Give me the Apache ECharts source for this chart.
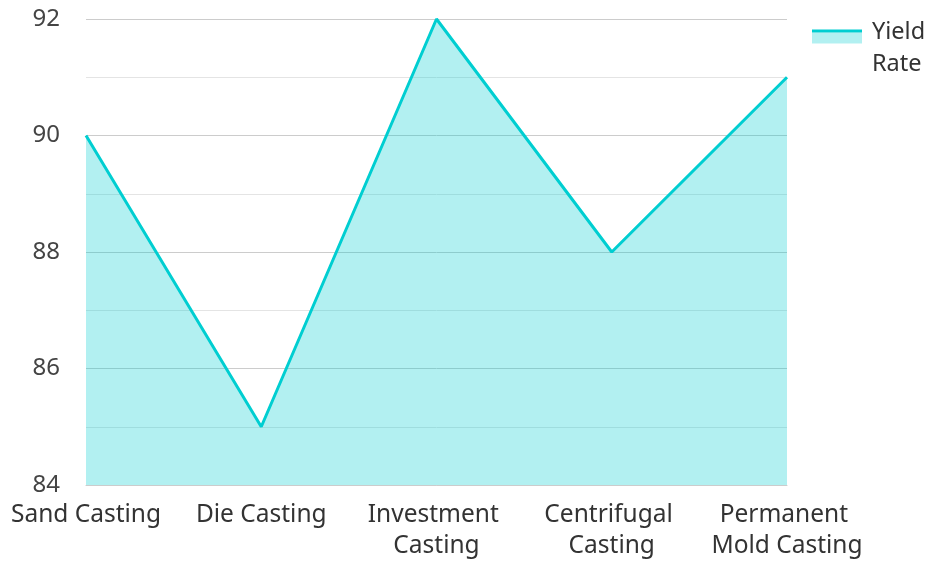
<!DOCTYPE html>
<html><head><meta charset="utf-8">
<script src="https://cdn.jsdelivr.net/npm/echarts@6/dist/echarts.min.js"></script>
<style>html,body{margin:0;padding:0;background:#fff}#c{width:928px;height:562px}</style>
</head><body><div id="c"></div>
<script>
const categories = ["Sand Casting", "Die Casting", "Investment Casting", "Centrifugal Casting", "Permanent Mold Casting"];
const yieldRate = [90, 85, 92, 88, 91];
const seriesName = "Yield Rate";

const chart = echarts.init(document.getElementById('c'));
const FONT = '"Noto Sans", sans-serif';
const LINE = '#00CED1';
const FILL = 'rgba(0,206,209,0.3)';
chart.setOption({
  animation: false,
  textStyle: { fontFamily: FONT },
  grid: { left: 86, right: 141, top: 19, bottom: 75 },
  legend: {
    data: [seriesName],
    left: 812, top: 11,
    orient: 'vertical',
    icon: 'rect',
    itemWidth: 50, itemHeight: 14,
    itemGap: 5,
    itemStyle: { opacity: 0 },
    textStyle: { fontFamily: FONT, fontSize: 23.5, color: '#333', width: 60, overflow: 'break', lineHeight: 32 }
  },
  graphic: [
    { type: 'rect', shape: { x: 812, y: 32.5, width: 50, height: 11 }, style: { fill: FILL }, silent: true },
    { type: 'rect', shape: { x: 812, y: 29.5, width: 50, height: 3 }, style: { fill: LINE }, silent: true }
  ],
  xAxis: {
    type: 'category', data: categories, boundaryGap: false,
    axisLine: { show: true, lineStyle: { color: '#ccc' } },
    axisTick: { show: false },
    axisLabel: { fontFamily: FONT, fontSize: 24.5, color: '#333', margin: 15, width: 158, overflow: 'break', lineHeight: 31, interval: 0 },
    splitLine: { show: false }
  },
  yAxis: {
    type: 'value', min: 84, max: 92, interval: 2,
    axisLine: { show: false }, axisTick: { show: false },
    axisLabel: { fontFamily: FONT, fontSize: 24, color: '#444', margin: 26, padding: [4, 0, 0, 0] },
    splitLine: { show: true, lineStyle: { color: '#ccc', width: 1 } },
    minorTick: { show: false, splitNumber: 2 },
    minorSplitLine: { show: true, lineStyle: { color: '#e4e4e4', width: 1 } }
  },
  series: [{
    name: seriesName, type: 'line', data: yieldRate,
    symbol: 'none',
    lineStyle: { color: LINE, width: 3 },
    itemStyle: { color: LINE },
    areaStyle: { color: FILL, opacity: 1, origin: 'start' }
  }]
});
</script></body></html>
